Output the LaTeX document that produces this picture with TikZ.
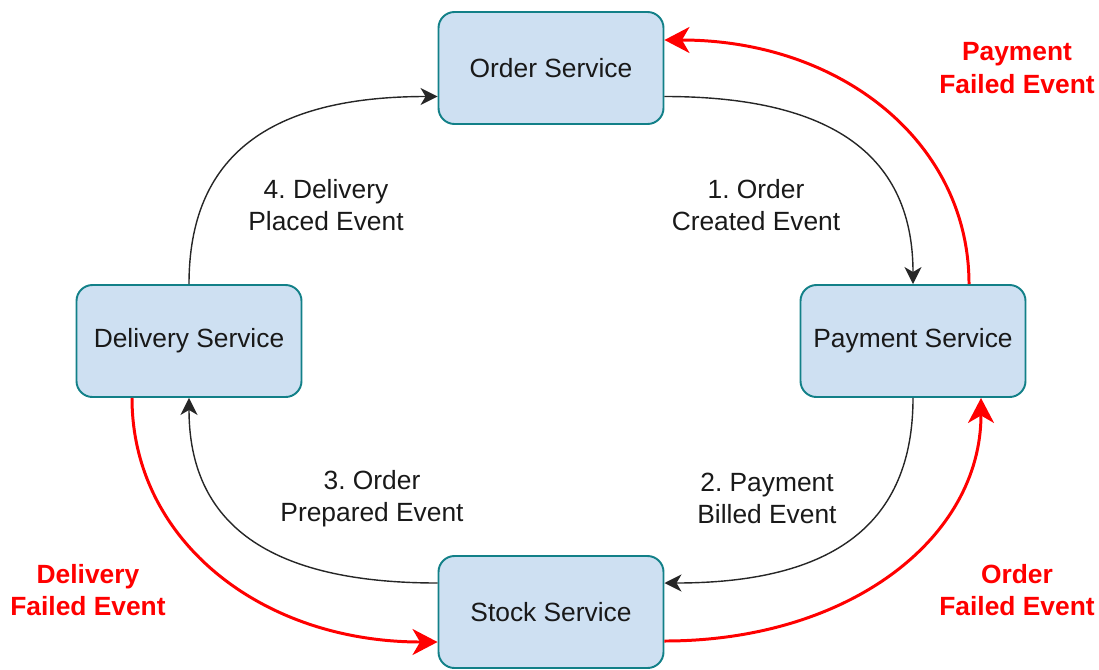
\documentclass[tikz,border=0pt]{standalone}
\usepackage{fontspec}
\setmainfont{Liberation Sans}
\usetikzlibrary{arrows.meta, positioning, calc}
\frenchspacing

\definecolor{svcfill}{RGB}{206,224,242}
\definecolor{svcline}{RGB}{18,128,136}
\definecolor{failred}{RGB}{255,0,0}

\begin{document}
\begin{tikzpicture}[
    service/.style={rectangle, rounded corners=0.32cm, draw=svcline, line width=1.1pt,
        fill=svcfill, minimum width=4.5cm, minimum height=2.24cm,
        text=black!90, font=\fontsize{15}{18}\selectfont},
    flow/.style={draw=black!85, line width=0.8pt,
        -{Stealth[length=0.34cm,width=0.34cm,inset=0.1cm]}},
    fail/.style={draw=failred, line width=1.7pt,
        -{Stealth[length=0.5cm,width=0.52cm,inset=0.15cm]}},
    evt/.style={align=center, text=black!90, font=\fontsize{15}{18.3}\selectfont},
    failevt/.style={align=center, text=failred, font=\fontsize{15}{18.3}\selectfont\bfseries}
]
\useasboundingbox (0,0) rectangle (21.98,13.38);

% Services
\node[service] (order) at (11.02,12.02) {Order Service};
\node[service] (payment) at (18.26,6.56) {Payment Service};
\node[service] (delivery) at (3.78,6.56) {Delivery Service};
\node[service] (stock) at (11.02,1.14) {Stock Service};

% Ports on the box sides
\coordinate (oe1) at ([yshift=-0.57cm]order.east);
\coordinate (oe2) at ([yshift=0.56cm]order.east);
\coordinate (ow1) at ([yshift=-0.57cm]order.west);
\coordinate (se1) at ([yshift=0.58cm]stock.east);
\coordinate (se2) at ([yshift=-0.58cm]stock.east);
\coordinate (sw1) at ([yshift=0.58cm]stock.west);
\coordinate (sw2) at ([yshift=-0.6cm]stock.west);
\coordinate (pn2) at ([xshift=1.12cm]payment.north);
\coordinate (ps2) at ([xshift=1.36cm]payment.south);
\coordinate (ds2) at ([xshift=-1.14cm]delivery.south);

% Corners the curves bend round
\coordinate (c1) at (oe1 -| payment.north);
\coordinate (c2) at (payment.south |- se1);
\coordinate (c3) at (sw1 -| delivery.south);
\coordinate (c4) at (delivery.north |- ow1);
\coordinate (c5) at (pn2 |- oe2);
\coordinate (c6) at (se2 -| ps2);
\coordinate (c7) at (ds2 |- sw2);

% Happy path
\draw[flow] (oe1) .. controls ($(oe1)!0.68!(c1)$) and ($(payment.north)!0.68!(c1)$) .. (payment.north);
\draw[flow] (payment.south) .. controls ($(payment.south)!0.68!(c2)$) and ($(se1)!0.68!(c2)$) .. (se1);
\draw[flow] (sw1) .. controls ($(sw1)!0.68!(c3)$) and ($(delivery.south)!0.68!(c3)$) .. (delivery.south);
\draw[flow] (delivery.north) .. controls ($(delivery.north)!0.68!(c4)$) and ($(ow1)!0.68!(c4)$) .. (ow1);

% Compensation
\draw[fail] (pn2) .. controls ($(pn2)!0.58!(c5)$) and ($(oe2)!0.58!(c5)$) .. (oe2);
\draw[fail] (se2) .. controls ($(se2)!0.58!(c6)$) and ($(ps2)!0.58!(c6)$) .. (ps2);
\draw[fail] (ds2) .. controls ($(ds2)!0.58!(c7)$) and ($(sw2)!0.58!(c7)$) .. (sw2);

% Event labels
\node[evt] (e1) at (15.12,9.28) {1. Order\\Created Event};
\node[evt] (e2) at (15.34,3.42) {2. Payment\\Billed Event};
\node[evt] (e3) at (7.44,3.40) {3. Order\\Prepared Event};
\node[evt] (e4) at (6.52,9.28) {4. Delivery\\Placed Event};

\node[failevt] (f1) at (20.34,12.02) {Payment\\Failed Event};
\node[failevt] (f2) at (20.34,1.58) {Order\\Failed Event};
\node[failevt] (f3) at (1.76,1.58) {Delivery\\Failed Event};
\end{tikzpicture}
\end{document}
